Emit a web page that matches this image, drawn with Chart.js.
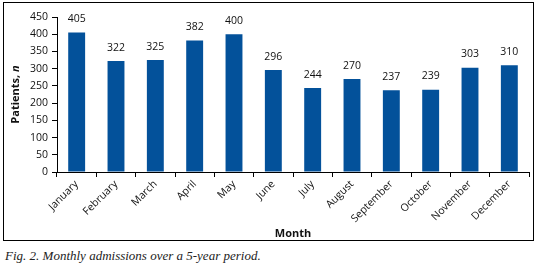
<!DOCTYPE html>
<html><head><meta charset="utf-8">
<script src="https://cdn.jsdelivr.net/npm/chart.js@4/dist/chart.umd.min.js"></script>
<style>
html,body{margin:0;padding:0;background:#fff;}
#frame{position:absolute;left:3px;top:2px;width:531px;height:239px;border:1.5px solid #000;box-sizing:border-box;}
#wrap{position:absolute;left:4px;top:3px;width:530px;height:238px;}
#cap{position:absolute;left:5px;top:248px;font-family:"Liberation Serif",serif;font-style:italic;font-size:13px;color:#222;white-space:nowrap;}
</style></head><body>
<div id="frame"></div>
<div id="wrap"><canvas id="c" width="530" height="238"></canvas></div>
<div id="cap">Fig. 2. Monthly admissions over a 5-year period.</div>
<script>
const months = ["January","February","March","April","May","June","July","August","September","October","November","December"];
const patients = [405,322,325,382,400,296,244,270,237,239,303,310];
const yMin = 0, yMax = 450, yStep = 50;
const yTitleMain = 'Patients, ';
const yTitleItalic = 'n';

const FONT = '"Open Sans", sans-serif';
const valueLabels = {
  id: 'valueLabels',
  afterDatasetsDraw(chart) {
    const ctx = chart.ctx;
    const meta = chart.getDatasetMeta(0);
    ctx.save();
    ctx.font = '10.5px ' + FONT;
    ctx.fillStyle = '#111';
    ctx.textAlign = 'center';
    ctx.textBaseline = 'bottom';
    meta.data.forEach((bar, i) => {
      ctx.fillText(String(chart.data.datasets[0].data[i]), bar.x, bar.y - 8);
    });
    ctx.restore();
  }
};
const yTitle = {
  id: 'yTitle',
  afterDraw(chart) {
    const ctx = chart.ctx;
    const a = chart.chartArea;
    ctx.save();
    const f1 = 'bold 11px ' + FONT, f2 = 'italic bold 11px ' + FONT;
    ctx.font = f1; const w1 = ctx.measureText(yTitleMain).width;
    ctx.font = f2; const w2 = ctx.measureText(yTitleItalic).width;
    const cy = (a.top + a.bottom) / 2;
    ctx.translate(12, cy);
    ctx.rotate(-Math.PI / 2);
    ctx.fillStyle = '#111';
    ctx.textBaseline = 'middle';
    ctx.textAlign = 'left';
    const x0 = -(w1 + w2) / 2;
    ctx.font = f1; ctx.fillText(yTitleMain, x0, 0);
    ctx.font = f2; ctx.fillText(yTitleItalic, x0 + w1, 0);
    ctx.restore();
  }
};

new Chart(document.getElementById('c'), {
  type: 'bar',
  data: { labels: months, datasets: [{ data: patients, backgroundColor: '#03519a', barPercentage: 0.43, categoryPercentage: 1 }] },
  options: {
    responsive: false, animation: false,
    layout: { padding: { top: 14, right: 5, left: 0, bottom: 0 } },
    plugins: { legend: { display: false }, tooltip: { enabled: false } },
    scales: {
      x: {
        grid: { offset: true, drawOnChartArea: false, tickLength: 5, color: '#000', lineWidth: 1 },
        border: { color: '#000', width: 1 },
        ticks: { minRotation: 45, maxRotation: 45, autoSkip: false, padding: 1, color: '#111', font: { family: FONT, size: 10.5 } },
        title: { display: true, text: 'Month', color: '#111', font: { family: FONT, size: 11, weight: 'bold' }, padding: { top: 0, bottom: 1 } },
        afterFit(s) { s.height = 69; }
      },
      y: {
        min: yMin, max: yMax,
        grid: { drawOnChartArea: false, tickLength: 5, color: '#000', lineWidth: 1 },
        border: { color: '#000', width: 1 },
        ticks: { stepSize: yStep, padding: 4, color: '#111', font: { family: FONT, size: 10.5 } },
        afterFit(s) { s.width = 53; }
      }
    }
  },
  plugins: [valueLabels, yTitle]
});
</script>
</body></html>
